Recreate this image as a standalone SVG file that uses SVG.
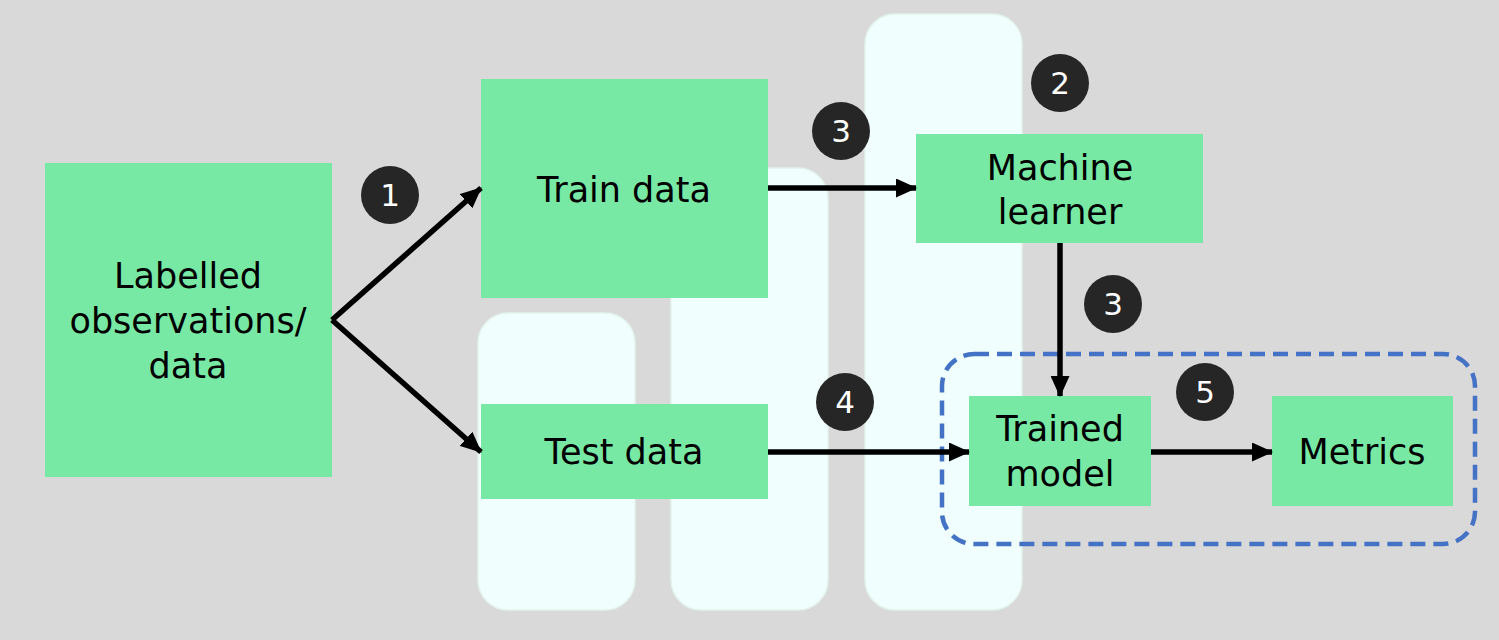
<svg xmlns="http://www.w3.org/2000/svg" width="1499" height="640" viewBox="0 0 1499 640">
  <style>
    .col { fill: #F0FFFD; stroke: #E3F3EC; stroke-width: 1.5; }
    .box { fill: #78E9A4; }
    .lbl { font-family: "DejaVu Sans", "Liberation Sans", sans-serif; font-size: 35px; fill: #000000; text-anchor: middle; }
    .badge circle { fill: #262626; }
    .badge text { font-family: "DejaVu Sans", "Liberation Sans", sans-serif; font-size: 31px; fill: #FFFFFF; text-anchor: middle; }
    .conn { stroke: #000000; stroke-width: 5.5; fill: none; marker-end: url(#arrow); }
    .group { fill: none; stroke: #4472C4; stroke-width: 4.5; stroke-dasharray: 15 8; }
  </style>
  <defs>
    <marker id="arrow" markerUnits="userSpaceOnUse" markerWidth="21" markerHeight="19" refX="20" refY="9.5" orient="auto">
      <path d="M0,0 L21,9.5 L0,19 Z" fill="#000000"/>
    </marker>
  </defs>

  <rect x="0" y="0" width="1499" height="640" fill="#D9D9D9"/>

  <g id="background-columns">
    <rect class="col" x="478" y="313" width="157" height="297" rx="30"/>
    <rect class="col" x="671" y="168" width="157" height="442" rx="30"/>
    <rect class="col" x="865" y="14" width="157" height="596" rx="30"/>
  </g>

  <g id="evaluation-group">
    <rect class="group" x="942" y="354" width="533" height="190" rx="32"/>
  </g>

  <g id="labelled-data">
    <rect class="box" x="45" y="163" width="287" height="314"/>
    <text class="lbl" x="188" y="288">Labelled</text>
    <text class="lbl" x="188" y="333">observations/</text>
    <text class="lbl" x="188" y="378">data</text>
  </g>

  <g id="train-data">
    <rect class="box" x="481" y="79" width="287" height="219"/>
    <text class="lbl" x="624" y="202">Train data</text>
  </g>

  <g id="test-data">
    <rect class="box" x="481" y="404" width="287" height="95"/>
    <text class="lbl" x="624" y="464">Test data</text>
  </g>

  <g id="machine-learner">
    <rect class="box" x="916" y="134" width="287" height="109"/>
    <text class="lbl" x="1060" y="180">Machine</text>
    <text class="lbl" x="1060" y="224">learner</text>
  </g>

  <g id="trained-model">
    <rect class="box" x="969" y="396" width="182" height="110"/>
    <text class="lbl" x="1060" y="441">Trained</text>
    <text class="lbl" x="1060" y="486">model</text>
  </g>

  <g id="metrics">
    <rect class="box" x="1272" y="396" width="181" height="110"/>
    <text class="lbl" x="1362" y="464">Metrics</text>
  </g>

  <g id="connectors">
    <polyline class="conn" points="332,320 481,188"/>
    <polyline class="conn" points="332,320 481,452"/>
    <line class="conn" x1="768" y1="188" x2="916" y2="188"/>
    <line class="conn" x1="1060" y1="243" x2="1060" y2="396"/>
    <line class="conn" x1="768" y1="452" x2="969" y2="452"/>
    <line class="conn" x1="1151" y1="452" x2="1272" y2="452"/>
  </g>

  <g id="badges" class="badge">
    <g id="badge-1"><circle cx="390" cy="195" r="29"/><text x="390" y="206">1</text></g>
    <g id="badge-3a"><circle cx="841" cy="131" r="29"/><text x="841" y="142">3</text></g>
    <g id="badge-2"><circle cx="1060" cy="83" r="29"/><text x="1060" y="94">2</text></g>
    <g id="badge-3b"><circle cx="1113" cy="304" r="29"/><text x="1113" y="315">3</text></g>
    <g id="badge-4"><circle cx="845" cy="402" r="29"/><text x="845" y="413">4</text></g>
    <g id="badge-5"><circle cx="1205" cy="392" r="29"/><text x="1205" y="403">5</text></g>
  </g>
</svg>
